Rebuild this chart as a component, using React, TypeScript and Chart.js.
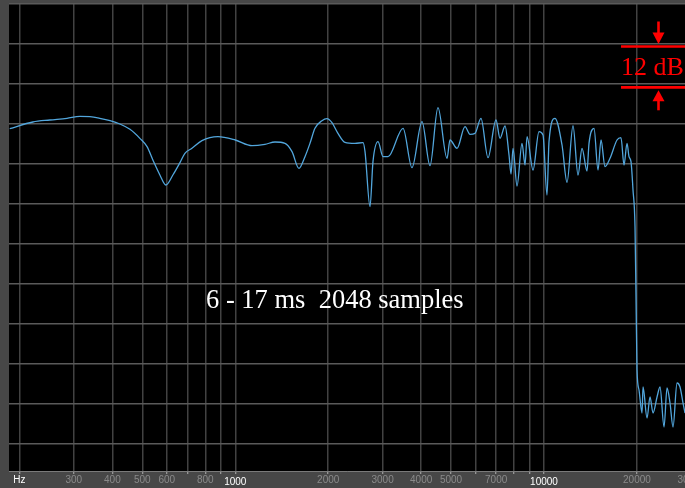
import { useEffect, useRef } from 'react';
import { Chart, registerables } from 'chart.js';

Chart.register(...registerables);

// Frequency (Hz) of each measured point
const freqHz = [
  186, 221, 251, 285, 314, 338, 364, 393, 423, 456,
  491, 518, 541, 570, 596, 628, 662, 687, 724, 780,
  879, 1000, 1133, 1248, 1345, 1449, 1527, 1608, 1682, 1746,
  1812, 1909, 1982, 2057, 2151, 2267, 2442, 2593, 2632, 2732,
  2793, 2900, 3010, 3125, 3495, 3736, 4026, 4273, 4535, 4851,
  4961, 5227, 5548, 5759, 5977, 6250, 6586, 6990, 7203, 7477,
  7703, 7819, 7937, 8177, 8487, 8681, 8811, 9213, 9634, 9926,
  10226, 10380, 10855, 11438, 11873, 12415, 12887, 13277, 13781, 13989,
  14521, 14960, 15298, 15762, 16360, 17237, 17757, 18162, 18572, 18852,
  19133, 19421, 19714, 19861, 20011, 20311, 20772, 20926, 21562, 22049,
  22547, 23232, 23757, 24478, 25031, 25596, 26174, 26969, 27578, 28201,
  28620,
];

// Level (dB) at each frequency
const levelDb = [
  -1.4, 0.6, 1.2, 1.7, 2.3, 2.2, 1.7, 1.0, 0, -1.6,
  -4.3, -6.8, -10.8, -15.3, -18.3, -15.3, -11.6, -8.8, -7.3, -5.0,
  -3.8, -4.8, -6.5, -6.1, -5.4, -5.8, -8.3, -13.3, -9.8, -5.8,
  -1.3, 1.0, 1.6, 0.4, -2.8, -5.5, -5.8, -5.6, -8.3, -24.8,
  -11.3, -5.3, -9.8, -9.8, -1.3, -13.1, 0.7, -12.5, 4.9, -10.3,
  -4.8, -7.3, -0.8, -3.1, -2.8, 1.7, -10.1, 1.2, -4.3, -0.6,
  -9.3, -15.0, -7.3, -18.6, -5.8, -12.3, -3.8, -13.8, -2.3, -3.3,
  -21.3, -5.3, 1.7, -6.3, -17.5, -0.5, -15.3, -7.3, -14.1, -5.8,
  -1.3, -13.8, -4.8, -12.8, -10.3, -4.8, -4.1, -12.3, -5.8, -9.8,
  -11.3, -19.8, -30.9, -51.9, -73.8, -79.8, -86.7, -78.9, -88.2, -81.9,
  -86.7, -81.9, -78.9, -90.9, -79.2, -83.7, -90.9, -77.7, -78.9, -83.7,
  -86.7,
];

// Vertical grid frequencies and their labels
const gridFreqs = [200, 300, 400, 500, 600, 700, 800, 900, 1000, 2000, 3000, 4000, 5000, 6000, 7000, 8000, 9000, 10000, 20000, 30000];
const gridLabels = ['Hz', '300', '400', '500', '600', '', '800', '', '1000', '2000', '3000', '4000', '5000', '', '7000', '', '', '10000', '20000', '30000'];
const brightLabels = ['Hz', '1000', '10000'];

// Horizontal grid levels (dB), 12 dB per division
const dbGrid = [-96, -84, -72, -60, -48, -36, -24, -12, 0, 12, 24, 36];

const X_MIN = 185;
const X_MAX = 28620;
const Y_MIN = -104.1;
const Y_MAX = 36;

// Scale marker: spans 12 dB
const markerTopDb = 24;
const markerBottomDb = 12;

const framePlugin = {
  id: 'frame',
  beforeDraw(chart: any) {
    const { ctx, chartArea: a, width, height } = chart;
    ctx.save();
    ctx.fillStyle = '#474747';
    ctx.fillRect(0, 0, width, height);
    ctx.fillStyle = '#000000';
    ctx.fillRect(a.left, a.top, a.right - a.left, a.bottom - a.top);
    ctx.restore();
  },
  afterDraw(chart: any) {
    const { ctx, chartArea: a } = chart;
    const ys = chart.scales.y;
    const y1 = ys.getPixelForValue(markerTopDb) + 2.5;
    const y2 = ys.getPixelForValue(markerBottomDb) + 3.3;
    const xl = a.right - 64;
    const xr = a.right;
    const xa = a.right - 26.5;
    ctx.save();
    ctx.strokeStyle = '#ff0000';
    ctx.fillStyle = '#ff0000';
    ctx.lineWidth = 2.7;
    ctx.beginPath();
    ctx.moveTo(xl, y1);
    ctx.lineTo(xr, y1);
    ctx.moveTo(xl, y2);
    ctx.lineTo(xr, y2);
    ctx.stroke();
    // down arrow
    ctx.lineWidth = 2.6;
    ctx.beginPath();
    ctx.moveTo(xa, y1 - 25);
    ctx.lineTo(xa, y1 - 12);
    ctx.stroke();
    ctx.beginPath();
    ctx.moveTo(xa - 6, y1 - 14);
    ctx.lineTo(xa + 6, y1 - 14);
    ctx.lineTo(xa, y1 - 2.5);
    ctx.closePath();
    ctx.fill();
    // up arrow
    ctx.beginPath();
    ctx.moveTo(xa, y2 + 12);
    ctx.lineTo(xa, y2 + 23);
    ctx.stroke();
    ctx.beginPath();
    ctx.moveTo(xa - 6, y2 + 14);
    ctx.lineTo(xa + 6, y2 + 14);
    ctx.lineTo(xa, y2 + 3);
    ctx.closePath();
    ctx.fill();
    ctx.restore();
  },
};

export default function App() {
  const ref = useRef<HTMLCanvasElement | null>(null);

  useEffect(() => {
    if (!ref.current) return;
    const points = freqHz.map((f, i) => ({ x: f, y: levelDb[i] }));
    const chart = new Chart(ref.current, {
      type: 'line',
      data: {
        datasets: [
          {
            data: points,
            borderColor: '#52a6dc',
            borderWidth: 1.3,
            pointRadius: 0,
            cubicInterpolationMode: 'monotone',
            fill: false,
          },
        ],
      },
      options: {
        animation: false,
        responsive: false,
        events: [],
        layout: { padding: { left: 9, top: 4, right: 0, bottom: 0 } },
        plugins: { legend: { display: false }, tooltip: { enabled: false } },
        scales: {
          x: {
            type: 'logarithmic',
            min: X_MIN,
            max: X_MAX,
            afterBuildTicks: (scale: any) => {
              scale.ticks = gridFreqs.map((v) => ({ value: v }));
            },
            afterFit: (scale: any) => {
              scale.height = 17;
              scale.paddingLeft = 0;
              scale.paddingRight = 0;
            },
            ticks: {
              autoSkip: false,
              maxRotation: 0,
              minRotation: 0,
              padding: 0,
              callback: (_v: any, i: number) => gridLabels[i],
              color: (ctx: any) => (brightLabels.includes(gridLabels[ctx.index]) ? '#ffffff' : '#8a8a8a'),
              font: (ctx: any) => ({
                family: "'Liberation Sans Narrow', 'Liberation Sans', Arial, sans-serif",
                size: 10,
                lineHeight: gridLabels[ctx.index] === '1000' || gridLabels[ctx.index] === '10000' ? 1.6 : 1.2,
              }),
            },
            grid: {
              color: '#424242',
              lineWidth: 1.5,
              drawTicks: true,
              tickLength: 3,
              tickColor: '#b0b0b0',
              tickWidth: 1,
            },
            border: { display: true, color: '#7a7a7a', width: 1 },
          },
          y: {
            type: 'linear',
            min: Y_MIN,
            max: Y_MAX,
            afterBuildTicks: (scale: any) => {
              scale.ticks = dbGrid.map((v) => ({ value: v }));
            },
            afterFit: (scale: any) => {
              scale.width = 0;
              scale.paddingTop = 0;
              scale.paddingBottom = 0;
            },
            ticks: { display: false },
            grid: { color: '#5a5a5a', lineWidth: 1.5, drawTicks: false },
            border: { display: false },
          },
        },
      },
      plugins: [framePlugin],
    } as any);
    return () => chart.destroy();
  }, []);

  return (
    <div
      style={{
        position: 'fixed',
        left: 0,
        top: 0,
        width: 685,
        height: 488,
        overflow: 'hidden',
        background: '#474747',
      }}
    >
      <canvas ref={ref} width={685} height={488} style={{ width: 685, height: 488, display: 'block' }} />
      <div
        style={{
          position: 'absolute',
          left: 206,
          top: 286,
          fontFamily: "'Liberation Serif', 'Times New Roman', serif",
          fontSize: 26.5,
          lineHeight: 1,
          color: '#ffffff',
          whiteSpace: 'pre',
        }}
      >
        {'6 - 17 ms  2048 samples'}
      </div>
      <div
        style={{
          position: 'absolute',
          left: 621,
          top: 54,
          fontFamily: "'Liberation Serif', 'Times New Roman', serif",
          fontSize: 26,
          lineHeight: 1,
          color: '#ff0000',
          whiteSpace: 'pre',
        }}
      >
        {'12 dB'}
      </div>
    </div>
  );
}
